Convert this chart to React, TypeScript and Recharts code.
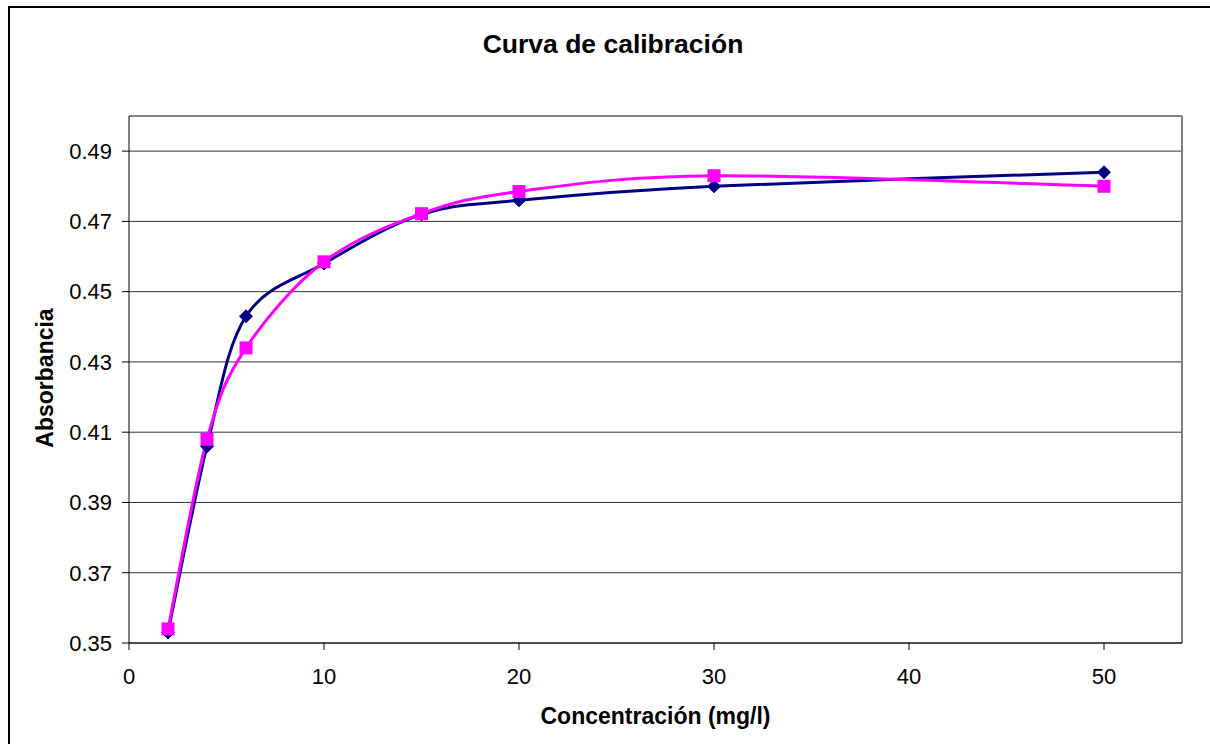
import { LineChart, Line, XAxis, YAxis, CartesianGrid, ReferenceLine } from 'recharts'

const CONCENTRACION = [2, 4, 6, 10, 15, 20, 30, 50]
const SERIE_AZUL = [0.353, 0.406, 0.443, 0.458, 0.472, 0.476, 0.48, 0.484]
const SERIE_ROSA = [0.354, 0.408, 0.434, 0.4585, 0.4722, 0.4785, 0.483, 0.48]

const X_TICKS = [0, 10, 20, 30, 40, 50]
const Y_TICKS = [0.35, 0.37, 0.39, 0.41, 0.43, 0.45, 0.47, 0.49]

const data = CONCENTRACION.map((c, i) => ({ c, azul: SERIE_AZUL[i], rosa: SERIE_ROSA[i] }))

const FONT = '"Liberation Sans", Arial, sans-serif'

// Excel-style smoothed line (Catmull-Rom converted to cubic Bezier)
function excelSmooth(context: any) {
  let pts: [number, number][] = []
  return {
    areaStart() {},
    areaEnd() {},
    lineStart() {
      pts = []
    },
    point(x: number, y: number) {
      pts.push([+x, +y])
    },
    lineEnd() {
      if (!pts.length) return
      context.moveTo(pts[0][0], pts[0][1])
      for (let i = 0; i < pts.length - 1; i++) {
        const p0 = pts[i - 1] ?? pts[i]
        const p1 = pts[i]
        const p2 = pts[i + 1]
        const p3 = pts[i + 2] ?? pts[i + 1]
        context.bezierCurveTo(
          p1[0] + (p2[0] - p0[0]) / 6,
          p1[1] + (p2[1] - p0[1]) / 6,
          p2[0] - (p3[0] - p1[0]) / 6,
          p2[1] - (p3[1] - p1[1]) / 6,
          p2[0],
          p2[1],
        )
      }
    },
  }
}

function Diamond(props: any) {
  const { cx, cy, index } = props
  if (cx == null || cy == null) return <g key={index} />
  const r = 6.5
  return (
    <path
      key={index}
      d={`M${cx},${cy - r}L${cx + r},${cy}L${cx},${cy + r}L${cx - r},${cy}Z`}
      fill="#000080"
      stroke="#000080"
      strokeWidth={1}
    />
  )
}

function Square(props: any) {
  const { cx, cy, index } = props
  if (cx == null || cy == null) return <g key={index} />
  return <rect key={index} x={cx - 6.5} y={cy - 6.5} width={13} height={13} fill="#FF00FF" />
}

export default function App() {
  return (
    <div
      style={{
        position: 'absolute',
        left: 0,
        top: 0,
        width: 1210,
        height: 744,
        overflow: 'hidden',
        background: '#fff',
        fontFamily: FONT,
      }}
    >
      <div
        style={{
          position: 'absolute',
          left: 8,
          top: 6,
          width: 1220,
          height: 760,
          border: '2px solid #000',
        }}
      />
      <LineChart
        width={1210}
        height={744}
        data={data}
        margin={{ top: 116, right: 28, bottom: 0, left: 0 }}
        style={{ position: 'absolute', left: 0, top: 0 }}
      >
        <CartesianGrid horizontal vertical={false} stroke="#000" strokeOpacity={0.8} />
        <ReferenceLine y={0.5} stroke="#808080" strokeWidth={2} />
        <ReferenceLine x={54} stroke="#808080" strokeWidth={2} />
        <XAxis
          dataKey="c"
          type="number"
          domain={[0, 54]}
          ticks={X_TICKS}
          height={101}
          tickSize={7}
          tickMargin={18}
          stroke="#000"
          tick={{ fill: '#000', fontSize: 22, fontFamily: FONT }}
        />
        <YAxis
          type="number"
          domain={[0.35, 0.5]}
          ticks={Y_TICKS}
          width={129}
          tickSize={7}
          tickMargin={10}
          stroke="#000"
          tickFormatter={(v: number) => v.toFixed(2)}
          tick={{ fill: '#000', fontSize: 22, fontFamily: FONT }}
        />
        <Line
          dataKey="azul"
          type={excelSmooth as any}
          stroke="#000080"
          strokeWidth={3}
          dot={Diamond}
          activeDot={false}
          isAnimationActive={false}
        />
        <Line
          dataKey="rosa"
          type={excelSmooth as any}
          stroke="#FF00FF"
          strokeWidth={3}
          dot={Square}
          activeDot={false}
          isAnimationActive={false}
        />
      </LineChart>
      <div
        style={{
          position: 'absolute',
          left: 8,
          width: 1210,
          top: 29,
          textAlign: 'center',
          fontSize: 26.5,
          fontWeight: 'bold',
        }}
      >
        Curva de calibración
      </div>
      <div
        style={{
          position: 'absolute',
          left: 129,
          width: 1053,
          top: 703,
          textAlign: 'center',
          fontSize: 23,
          fontWeight: 'bold',
        }}
      >
        Concentración (mg/l)
      </div>
      <div
        style={{
          position: 'absolute',
          left: 45,
          top: 378,
          transform: 'translate(-50%, -50%) rotate(-90deg)',
          fontSize: 23,
          fontWeight: 'bold',
          whiteSpace: 'nowrap',
        }}
      >
        Absorbancia
      </div>
    </div>
  )
}
